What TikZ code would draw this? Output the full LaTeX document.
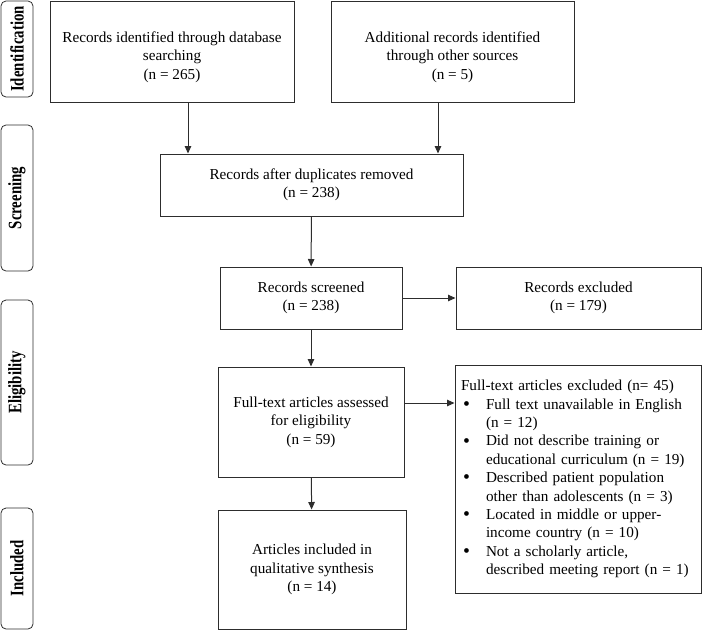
\documentclass[tikz,border=0pt]{standalone}
\usepackage{fontspec}
\setmainfont{Liberation Serif}
\usepackage{graphicx}
\usepackage{tikz}
\usetikzlibrary{positioning,arrows.meta,calc}
\usepackage{xcolor}
\definecolor{lineclr}{RGB}{45,45,45}
\newcommand{\blt}{\makebox[25pt][l]{\hspace{2pt}\raisebox{-1.3pt}{\scalebox{1.3}{\textbullet}}}}
\newcommand{\phasetxt}[1]{\scalebox{0.78}[1]{#1}}

\begin{document}
\begin{tikzpicture}[x=1pt,y=-1pt,
  box/.style={rectangle,draw=lineclr,line width=1pt,align=center,inner sep=0pt,
    font=\fontsize{15.2}{18.4}\selectfont},
  phase/.style={rectangle,rounded corners=5pt,draw=lineclr,line width=0.8pt,rotate=90,
    minimum height=32pt,inner sep=0pt,font=\bfseries\fontsize{19}{20}\selectfont},
  arr/.style={draw=lineclr,line width=1pt,-{Triangle[length=7.5pt,width=6.5pt]}}]
\useasboundingbox (0,0) rectangle (702,630);

% phase labels
\node[phase,minimum width=96pt]  (idLabel)   at (17,49)    {\phasetxt{Identification}};
\node[phase,minimum width=146pt] (scrLabel)  at (17,198)   {\phasetxt{Screening}};
\node[phase,minimum width=165pt] (eligLabel) at (17,382.5) {\phasetxt{Eligibility}};
\node[phase,minimum width=121pt] (inclLabel) at (17,568.5) {\phasetxt{Included}};

% boxes
\node[box,minimum width=244pt,minimum height=101pt] (dbRec) at (172,51.5)
  {\rule{0pt}{22pt}Records identified through database\\searching\\(n = 265)};
\node[box,minimum width=243pt,minimum height=101pt] (otherRec) at (452.5,51.5)
  {\rule{0pt}{22pt}Additional records identified\\through other sources\\(n = 5)};
\node[box,minimum width=303pt,minimum height=62pt] (dupRem) at (311.5,185)
  {Records after duplicates removed\\(n = 238)};
\node[box,minimum width=182pt,minimum height=62pt] (screened) at (311,298)
  {Records screened\\(n = 238)};
\node[box,minimum width=245pt,minimum height=62pt] (excl) at (578.5,298)
  {Records excluded\\(n = 179)};
\node[box,minimum width=186pt,minimum height=110pt] (fullText) at (311,422)
  {Full-text articles assessed\\for eligibility\\(n = 59)};
\node[box,minimum width=246pt,minimum height=228pt,align=left,text width=234pt] (ftExcl) at (578,479)
  {Full-text articles excluded (n= 45)\\
   \blt Full text unavailable in English\\
   \hspace*{25pt}(n = 12)\\
   \blt Did not describe training or\\
   \hspace*{25pt}educational curriculum (n = 19)\\
   \blt Described patient population\\
   \hspace*{25pt}other than adolescents (n = 3)\\
   \blt Located in middle or upper-\\
   \hspace*{25pt}income country (n = 10)\\
   \blt Not a scholarly article,\\
   \hspace*{25pt}described meeting report (n = 1)};
\node[box,minimum width=188pt,minimum height=119pt] (included) at (312,569.5)
  {Articles included in\\qualitative synthesis\\(n = 14)};

% arrows
\coordinate (dbOut) at ([xshift=16pt]dbRec.south);
\coordinate (otherOut) at ([xshift=-14.5pt]otherRec.south);
\coordinate (ftOut) at ([yshift=19pt]fullText.east);
\draw[arr] (dbOut) -- (dbOut |- dupRem.north);
\draw[arr] (otherOut) -- (otherOut |- dupRem.north);
\draw[arr] (dupRem) -- (screened);
\draw[arr] (screened) -- (excl);
\draw[arr] (screened) -- (fullText);
\draw[arr] (ftOut) -- (ftOut -| ftExcl.west);
\draw[arr] (fullText) -- (included);
\end{tikzpicture}
\end{document}
